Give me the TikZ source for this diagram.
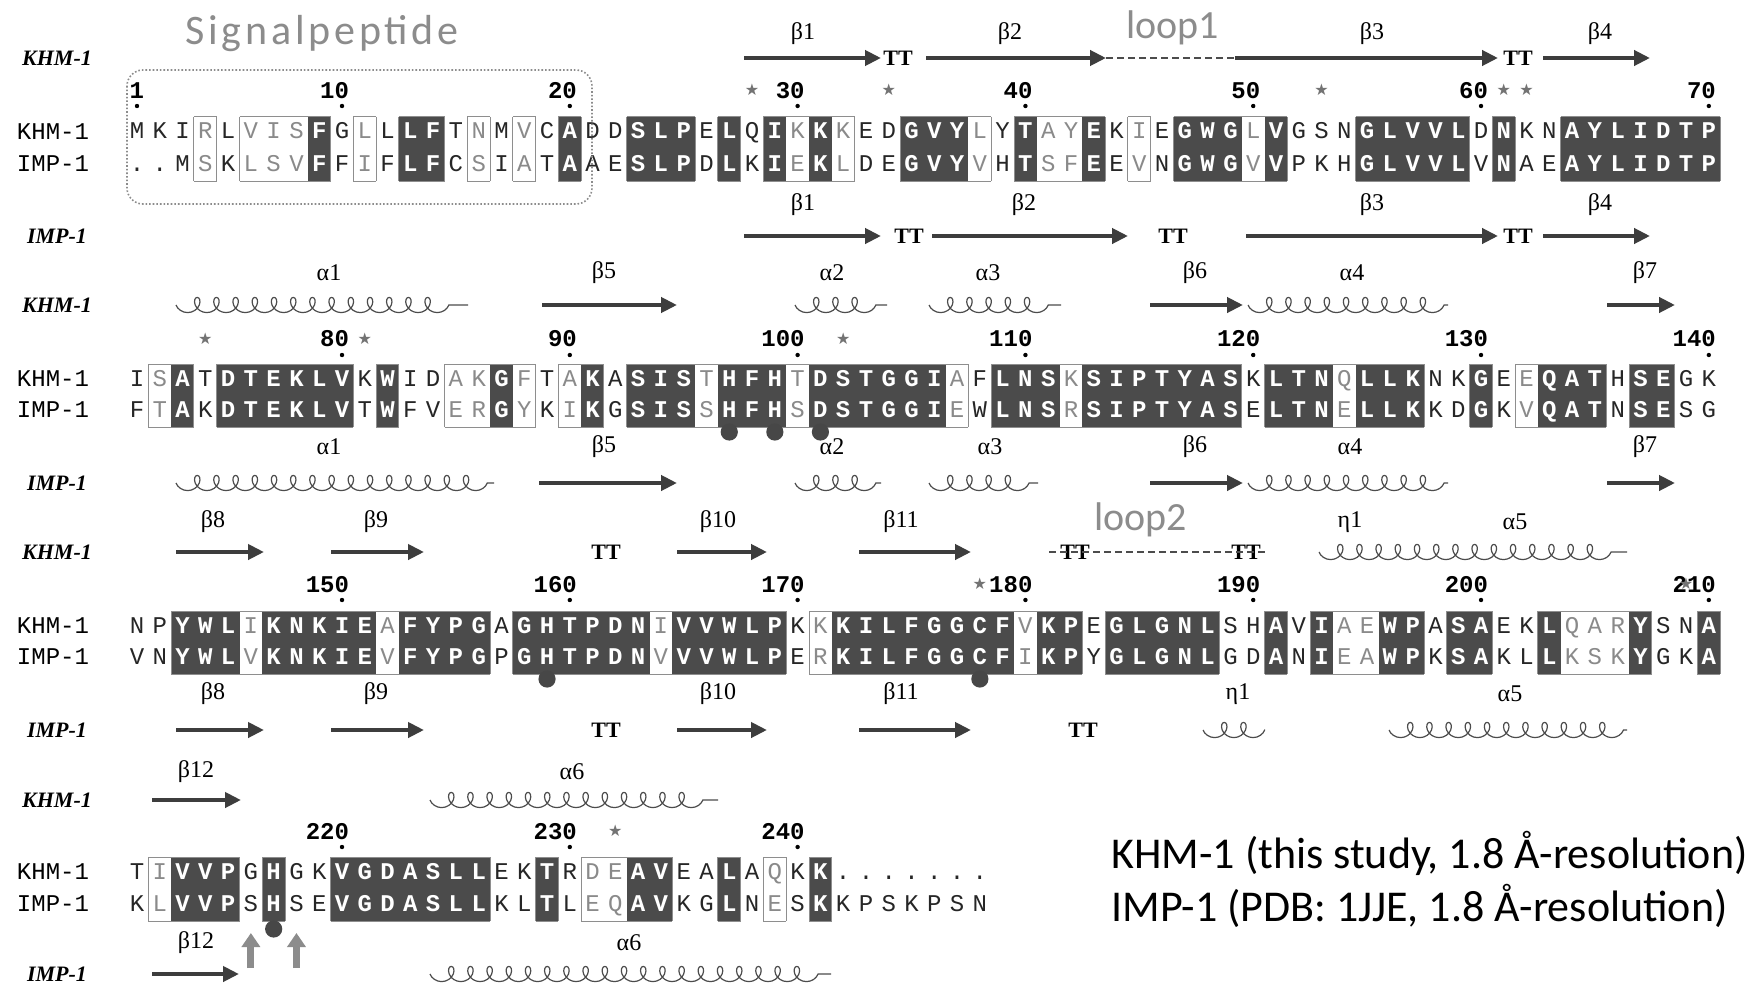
\documentclass[tikz,border=0pt]{standalone}
\usepackage{fontspec}
\setmainfont{Liberation Serif}
\newfontfamily\seqfont{Liberation Mono}
\newfontfamily\notefont{Carlito}
\newfontfamily\symbfont{DejaVu Sans}
\usepackage{xstring}
\usetikzlibrary{arrows.meta,decorations.pathmorphing}
\definecolor{IdBox}{HTML}{4B4B4B}
\definecolor{SimBox}{HTML}{8E8E8E}
\definecolor{SimRes}{HTML}{8A8A8A}
\definecolor{SSC}{HTML}{3D3D3D}
\definecolor{NoteC}{HTML}{8C8C8C}
\newcommand{\resfont}{\seqfont\fontsize{12}{12}\selectfont}
\newcommand{\cx}[2]{137+(#1-#2)*22.78}

% #1 y KHM row, #2 y IMP row, #3 columns, #4 KHM, #5 IMP, #6 classes (n/s/i)
\newcommand{\alnblock}[6]{%
  \foreach \c in {1,...,#3}{%
    \pgfmathsetmacro{\xc}{137+(\c-1)*22.78}%
    \StrChar{#6}{\c}[\cls]%
    \IfStrEq{\cls}{i}{\fill[IdBox] (\xc-11.39,#1-15) rectangle (\xc+11.39,#2+17);}{}%
  }
  \foreach \c in {1,...,#3}{%
    \pgfmathsetmacro{\xc}{137+(\c-1)*22.78}%
    \pgfmathtruncatemacro{\cp}{\c-1}%
    \pgfmathtruncatemacro{\cn}{\c+1}%
    \StrChar{#6}{\c}[\cls]\StrChar{#6}{\cp}[\clp]\StrChar{#6}{\cn}[\cln]%
    \StrChar{#4}{\c}[\ra]\StrChar{#5}{\c}[\rb]%
    \IfStrEq{\cls}{n}{%
      \node[resN] (kr\c) at (\xc,#1+7) {\ra};
      \node[resN] (ir\c) at (\xc,#2+7) {\rb};
    }{%
      \draw[simframe] (\xc-11.39,#1-15) -- (\xc+11.39,#1-15)
        (\xc-11.39,#2+17) -- (\xc+11.39,#2+17);
      \IfStrEqCase{\clp}{{i}{}{s}{}}[{\draw[simframe] (\xc-11.39,#1-15) -- (\xc-11.39,#2+17);}]%
      \IfStrEqCase{\cln}{{i}{}{s}{}}[{\draw[simframe] (\xc+11.39,#1-15) -- (\xc+11.39,#2+17);}]%
      \IfStrEq{\cls}{i}{%
        \node[resI] (kr\c) at (\xc,#1+7) {\ra};
        \node[resI] (ir\c) at (\xc,#2+7) {\rb};
      }{%
        \node[resS] (kr\c) at (\xc,#1+7) {\ra};
        \node[resS] (ir\c) at (\xc,#2+7) {\rb};
      }%
    }%
  }}

% #1 baseline y, #2 dot y, #3 first column, #4 numbers
\newcommand{\numrow}[4]{%
  \foreach \n in {#4}{%
    \pgfmathsetmacro{\xc}{137+(\n-#3)*22.78}%
    \node[numlab] (num\n) at (\xc+7.4,#1) {\n};
    \fill (\xc,#2) circle (1.1pt);
  }}

\begin{document}
\begin{tikzpicture}[x=0.5pt,y=-0.5pt,
  resN/.style={font=\resfont,text=black!85,anchor=base,inner sep=0pt},
  resS/.style={resN,text=SimRes},
  resI/.style={resN,font=\resfont\bfseries,text=white},
  simframe/.style={draw=SimBox,line width=0.5pt},
  numlab/.style={font=\seqfont\bfseries\fontsize{12}{12}\selectfont,anchor=base east,inner sep=0pt},
  starmark/.style={font=\symbfont\fontsize{8}{8}\selectfont,text=black!55,inner sep=0pt},
  strand/.style={line width=2.3pt,draw=SSC,-{Triangle[length=8pt,width=7.5pt]}},
  helix/.style={draw=black!70,line width=0.6pt,decorate,
     decoration={coil,mirror,aspect=0.9,segment length=9.6pt,amplitude=3.8pt}},
  loopline/.style={draw=black!70,line width=1pt,dash pattern=on 3.5pt off 2pt},
  turnlab/.style={font=\bfseries\fontsize{11}{11}\selectfont,inner sep=0pt},
  sslab/.style={font=\fontsize{12}{12}\selectfont,inner sep=0pt},
  rowname/.style={font=\bfseries\itshape\fontsize{11}{11}\selectfont,inner sep=0pt},
  seqname/.style={font=\resfont,inner sep=0pt},
  note/.style={font=\notefont\fontsize{20}{20}\selectfont,text=NoteC,anchor=base west,inner sep=0pt},
  legend/.style={font=\notefont\fontsize{22}{22}\selectfont,anchor=base west,inner sep=0pt},
  ligand/.style={fill=black!72},
  upmark/.style={draw=black!45,line width=3.5pt,-{Triangle[length=7pt,width=9pt]}}]

\useasboundingbox[fill=white] (0,0) rectangle (1760,990);

% ---------- block 1 ----------
\node[rowname] (ssk1) at (57,58) {KHM-1};
\node[rowname] (ssi1) at (57,236) {IMP-1};
\node[seqname] (sk1) at (53,132) {KHM-1};
\node[seqname] (si1) at (53,164) {IMP-1};

\draw[strand] (744,58) -- (881,58);
\node[turnlab] (t1a) at (898,58) {TT};
\draw[strand] (926,58) -- (1106,58);
\draw[loopline] (1106,58) -- (1235,58);
\draw[strand] (1235,58) -- (1498,58);
\node[turnlab] (t1b) at (1518,58) {TT};
\draw[strand] (1543,58) -- (1650,58);
\node[sslab] (lb1) at (803,34) {β1};
\node[sslab] (lb2) at (1010,34) {β2};
\node[sslab] (lb3) at (1372,34) {β3};
\node[sslab] (lb4) at (1600,34) {β4};
\node[note] (loop1) at (1126,39) {loop1};

\numrow{98}{106}{1}{1,10,20,30,40,50,60,70}
\foreach \s in {28,34,53,61,62} \node[starmark] (st\s) at ({\cx{\s}{1}},90) {★};

\alnblock{132}{164}{70}%
  {MKIRLVISFGLLLFTNMVCADDSLPELQIKKKEDGVYLYTAYEKIEGWGLVGSNGLVVLDNKNAYLIDTP}%
  {..MSKLSVFFIFLFCSIATAAESLPDLKIEKLDEGVYVHTSFEEVNGWGVVPKHGLVVLVNAEAYLIDTP}%
  {nnnsnsssinsniinsnsninniiininisisnniiisnissinsniiisinnniiiiininniiiiiii}

\draw[NoteC,line width=0.8pt,densely dotted,rounded corners=8pt] (127,70) rectangle (592,204);
\node[note,font=\notefont\fontsize{21}{21}\selectfont\addfontfeature{LetterSpace=9}] (sig) at (185,45) {Signalpeptide};

\draw[strand] (744,236) -- (881,236);
\node[turnlab] (t1c) at (909,236) {TT};
\draw[strand] (932,236) -- (1128,236);
\node[turnlab] (t1d) at (1173,236) {TT};
\draw[strand] (1246,236) -- (1498,236);
\node[turnlab] (t1e) at (1518,236) {TT};
\draw[strand] (1543,236) -- (1650,236);
\node[sslab] (mb1) at (803,205) {β1};
\node[sslab] (mb2) at (1024,205) {β2};
\node[sslab] (mb3) at (1372,205) {β3};
\node[sslab] (mb4) at (1600,205) {β4};

% ---------- block 2 ----------
\node[rowname] (ssk2) at (57,305) {KHM-1};
\node[rowname] (ssi2) at (57,483) {IMP-1};
\node[seqname] (sk2) at (53,379) {KHM-1};
\node[seqname] (si2) at (53,410) {IMP-1};

\draw[helix] (176,305) -- (468,305);
\draw[strand] (542,305) -- (677,305);
\draw[helix] (795,305) -- (887,305);
\draw[helix] (929,305) -- (1061,305);
\draw[strand] (1150,305) -- (1243,305);
\draw[helix] (1248,305) -- (1448,305);
\draw[strand] (1607,305) -- (1675,305);
\node[sslab] (la1) at (329,273) {α1};
\node[sslab] (lb5) at (604,273) {β5};
\node[sslab] (la2) at (832,273) {α2};
\node[sslab] (la3) at (988,273) {α3};
\node[sslab] (lb6) at (1195,273) {β6};
\node[sslab] (la4) at (1352,273) {α4};
\node[sslab] (lb7) at (1645,273) {β7};

\numrow{346}{355}{71}{80,90,100,110,120,130,140}
\foreach \s in {74,81,102} \node[starmark] (st\s) at ({\cx{\s}{71}},339) {★};

\alnblock{379}{410}{70}%
  {ISATDTEKLVKWIDAKGFTAKASISTHFHTDSTGGIAFLNSKSIPTYASKLTNQLLKNKGEEQATHSEGK}%
  {FTAKDTEKLVTWFVERGYKIKGSISSHFHSDSTGGIEWLNSRSIPTYASELTNELLKKDGKVQATNSESG}%
  {nsiniiiiiininnssisnsiniiisiiisiiiiiisniiisiiiiiiiniiisiiinninsiiiniinn}

\foreach \c in {97,99,101} \fill[ligand] ({\cx{\c}{71}},432) circle (4.3pt);

\draw[helix] (176,483) -- (494,483);
\draw[strand] (539,483) -- (677,483);
\draw[helix] (795,483) -- (881,483);
\draw[helix] (929,483) -- (1038,483);
\draw[strand] (1150,483) -- (1243,483);
\draw[helix] (1248,483) -- (1448,483);
\draw[strand] (1607,483) -- (1675,483);
\node[sslab] (ma1) at (329,447) {α1};
\node[sslab] (mb5) at (604,447) {β5};
\node[sslab] (ma2) at (832,447) {α2};
\node[sslab] (ma3) at (990,447) {α3};
\node[sslab] (mb6) at (1195,447) {β6};
\node[sslab] (ma4) at (1350,447) {α4};
\node[sslab] (mb7) at (1645,447) {β7};

% ---------- block 3 ----------
\node[rowname] (ssk3) at (57,552) {KHM-1};
\node[rowname] (ssi3) at (57,730) {IMP-1};
\node[seqname] (sk3) at (53,626) {KHM-1};
\node[seqname] (si3) at (53,657) {IMP-1};

\draw[strand] (176,552) -- (264,552);
\draw[strand] (331,552) -- (424,552);
\node[turnlab] (t3a) at (606,552) {TT};
\draw[strand] (677,552) -- (767,552);
\draw[strand] (859,552) -- (971,552);
\node[turnlab] (t3b) at (1075,552) {TT};
\node[turnlab] (t3c) at (1246,552) {TT};
\draw[loopline] (1049,552) -- (1268,552);
\draw[helix] (1319,552) -- (1627,552);
\node[sslab] (lb8) at (213,522) {β8};
\node[sslab] (lb9) at (376,522) {β9};
\node[sslab] (lb10) at (718,522) {β10};
\node[sslab] (lb11) at (901,522) {β11};
\node[sslab] (le1) at (1350,522) {η1};
\node[sslab] (la5) at (1515,522) {α5};
\node[note] (loop2) at (1094,530) {loop2};

\numrow{592}{600}{141}{150,160,170,180,190,200,210}
\foreach \s in {178,209} \node[starmark] (st\s) at ({\cx{\s}{141}},584) {★};

\alnblock{626}{657}{70}%
  {NPYWLIKNKIEAFYPGAGHTPDNIVVWLPKKKILFGGCFVKPEGLGNLSHAVIAEWPASAEKLQARYSNA}%
  {VNYWLVKNKIEVFYPGPGHTPDNVVVWLPERKILFGGCFIKPYGLGNLGDANIEAWPKSAKLLKSKYGKA}%
  {nniiisiiiiisiiiiniiiiiisiiiiinsiiiiiiiisiiniiiiinninissiiniinnisssinni}

\foreach \c in {159,178} \fill[ligand] ({\cx{\c}{141}},679) circle (4.3pt);

\draw[strand] (176,730) -- (264,730);
\draw[strand] (331,730) -- (424,730);
\node[turnlab] (t3d) at (606,730) {TT};
\draw[strand] (677,730) -- (767,730);
\draw[strand] (859,730) -- (971,730);
\node[turnlab] (t3e) at (1083,730) {TT};
\draw[helix] (1203,730) -- (1265,730);
\draw[helix] (1389,730) -- (1627,730);
\node[sslab] (mb8) at (213,694) {β8};
\node[sslab] (mb9) at (376,694) {β9};
\node[sslab] (mb10) at (718,694) {β10};
\node[sslab] (mb11) at (901,694) {β11};
\node[sslab] (me1) at (1238,694) {η1};
\node[sslab] (ma5) at (1510,694) {α5};

% ---------- block 4 ----------
\node[rowname] (ssk4) at (57,800) {KHM-1};
\node[rowname] (ssi4) at (57,974) {IMP-1};
\node[seqname] (sk4) at (53,872) {KHM-1};
\node[seqname] (si4) at (53,904) {IMP-1};

\draw[strand] (152,800) -- (241,800);
\draw[helix] (430,800) -- (718,800);
\node[sslab] (lb12) at (196,772) {β12};
\node[sslab] (la6) at (572,772) {α6};

\numrow{839}{847}{211}{220,230,240}
\node[starmark] (st232) at ({\cx{232}{211}},831) {★};

\alnblock{872}{904}{38}%
  {TIVVPGHGKVGDASLLEKTRDEAVEALAQKK.......}%
  {KLVVPSHSEVGDASLLKLTLEQAVKGLNESKKPSKPSN}%
  {nsiiininniiiiiiinninssiinninsninnnnnnn}

\fill[ligand] ({\cx{217}{211}},929) circle (4.3pt);
\draw[upmark] ({\cx{216}{211}},968) -- ({\cx{216}{211}},933);
\draw[upmark] ({\cx{218}{211}},968) -- ({\cx{218}{211}},933);

\draw[strand] (152,974) -- (239,974);
\draw[helix] (430,974) -- (831,974);
\node[sslab] (mb12) at (196,943) {β12};
\node[sslab] (ma6) at (629,943) {α6};

% ---------- legend ----------
\node[legend] (legk) at (1111,868) {KHM-1 (this study, 1.8 Å-resolution)};
\node[legend] (legi) at (1111,921) {IMP-1 (PDB: 1JJE, 1.8 Å-resolution)};

\end{tikzpicture}
\end{document}
